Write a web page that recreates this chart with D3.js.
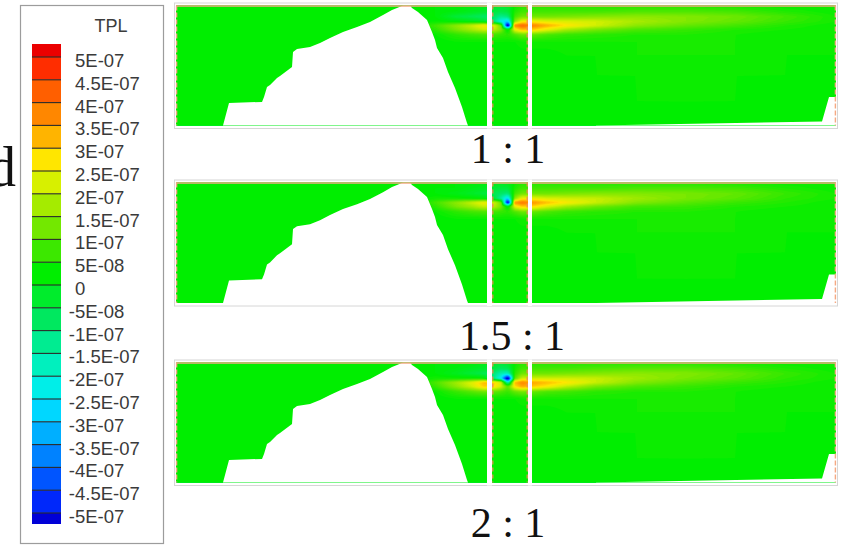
<!DOCTYPE html>
<html>
<head>
<meta charset="utf-8">
<script src="https://cdn.jsdelivr.net/npm/d3@7"></script>
<style>
  html, body { margin: 0; padding: 0; background: #fff; }
  svg { display: block; }
</style>
</head>
<body>
<svg id="chart" width="843" height="545"></svg>
<script>
// ---- Legend: TPL contour levels (values in units of 1E-8) and their labels ----
const legendLevels = [50, 45, 40, 35, 30, 25, 20, 15, 10, 5, 0, -5, -10, -15, -20, -25, -30, -35, -40, -45, -50];
const legendLabels = ["5E-07", "4.5E-07", "4E-07", "3.5E-07", "3E-07", "2.5E-07", "2E-07", "1.5E-07", "1E-07", "5E-08", "0",
  "-5E-08", "-1E-07", "-1.5E-07", "-2E-07", "-2.5E-07", "-3E-07", "-3.5E-07", "-4E-07", "-4.5E-07", "-5E-07"];
// one colour per band, from "above 5E-07" down to "below -5E-07"
const bandColors = ["#eb0000", "#ff2d00", "#ff5f00", "#ff8700", "#ffb400", "#ffe600", "#d7f000", "#a5eb00", "#73e800", "#3ce800", "#00ee00",
  "#00ec2c", "#00e85f", "#00ec91", "#00f0be", "#00eee8", "#00d7ff", "#00afff", "#0082ff", "#0055ff", "#0028fa", "#0000d7"];

// ---- Model grid: horizontal distance (m) and elevation (m, top to bottom) ----
const gridX = [0, 1200, 1300, 1400, 1480, 1540, 1590, 1625, 1660, 1695, 1730, 1790, 1850, 1950, 2100, 2300, 2550, 2800, 3050, 3300];
const gridZ = [600, 570, 545, 520, 500, 480, 455, 420, 350, 250, 120, 0];

// TPL field (1E-8) for each aspect ratio; one row per elevation in gridZ
const tpl_1_1 = [
  [2, 2, 2, 2, 1, 0, -2, -3, -2, 3, 5, 5, 5, 5, 5, 5, 5, 4, 3, 3],
  [2, 2, 2, 1, -1, -2, -4, -5, -4, 5, 8, 8, 8, 8, 8, 9, 9, 8, 5, 3],
  [2, 2, 2, -4, -6, -8, -8, -12, -10, 8, 12, 12, 12, 13, 14, 15, 14, 12, 8, 4],
  [2, 2, 3, 2, 0, -2, -10, -22, -30, 15, 26, 26, 24, 23, 22, 18, 14, 11, 7, 4],
  [2, 2, 8, 15, 21, 27, 24, 12, -70, 38, 42, 38, 34, 28, 22, 15, 11, 8, 5, 3],
  [2, 2, 6, 13, 18, 22, 20, 14, 0, 25, 32, 30, 25, 18, 13, 9, 7, 5, 4, 3],
  [2, 2, 3, 6, 8, 9, 8, 7, 6, 9, 12, 11, 9, 7, 6, 5, 5, 4, 3, 3],
  [2, 2, 2, 3, 3, 3, 3, 3, 3, 3, 4, 4, 4, 4, 4, 4, 4, 4, 3, 3],
  [2, 2, 2, 2, 2, 2, 2, 2, 2, 2, 2, 2, 2, 3, 3, 4, 4, 4, 3, 3],
  [2, 2, 2, 2, 2, 2, 2, 2, 2, 2, 2, 2, 2, 2, 3, 3, 4, 3, 3, 2],
  [2, 2, 2, 2, 2, 2, 2, 2, 2, 2, 2, 2, 2, 2, 2, 3, 3, 3, 2, 2],
  [2, 2, 2, 2, 2, 2, 2, 2, 2, 2, 2, 2, 2, 2, 2, 2, 2, 2, 2, 2]
];
const tpl_15_1 = [
  [2, 2, 2, 2, 2, 1, 0, -1, 0, 3, 5, 5, 5, 5, 5, 5, 5, 4, 3, 3],
  [2, 2, 2, 2, 0, -1, -3, -4, -4, 5, 8, 8, 8, 8, 8, 9, 9, 8, 5, 3],
  [2, 2, 2, 0, -2, -4, -6, -8, -10, 8, 12, 12, 12, 13, 14, 14, 13, 11, 7, 4],
  [2, 2, 4, 4, 3, 2, -4, -14, -30, 15, 26, 25, 23, 22, 21, 17, 13, 10, 6, 4],
  [2, 2, 8, 15, 21, 26, 22, 12, -65, 36, 40, 36, 32, 27, 21, 14, 10, 7, 5, 3],
  [2, 2, 6, 13, 17, 21, 19, 13, 0, 24, 30, 28, 23, 17, 12, 8, 7, 5, 4, 3],
  [2, 2, 3, 6, 8, 9, 8, 7, 6, 9, 12, 11, 9, 7, 6, 5, 5, 4, 3, 3],
  [2, 2, 2, 3, 3, 3, 3, 3, 3, 3, 4, 4, 4, 4, 4, 4, 4, 4, 3, 3],
  [2, 2, 2, 2, 2, 2, 2, 2, 2, 2, 2, 2, 2, 3, 3, 4, 4, 4, 3, 3],
  [2, 2, 2, 2, 2, 2, 2, 2, 2, 2, 2, 2, 2, 2, 3, 3, 4, 3, 3, 2],
  [2, 2, 2, 2, 2, 2, 2, 2, 2, 2, 2, 2, 2, 2, 2, 3, 3, 3, 2, 2],
  [2, 2, 2, 2, 2, 2, 2, 2, 2, 2, 2, 2, 2, 2, 2, 2, 2, 2, 2, 2]
];
const tpl_2_1 = [
  [2, 2, 2, 2, 2, 0, -2, -3, -2, 3, 5, 5, 5, 5, 5, 5, 5, 4, 3, 3],
  [2, 2, 2, 1, -1, -2, -4, -7, -6, 4, 8, 8, 8, 8, 9, 10, 10, 8, 5, 3],
  [2, 2, 2, -1, -4, -6, -10, -16, -18, 6, 12, 12, 12, 13, 14, 15, 14, 11, 7, 4],
  [2, 2, 4, 4, 4, 3, -12, -25, -65, 10, 22, 22, 22, 22, 21, 17, 13, 10, 6, 4],
  [2, 2, 9, 17, 24, 32, 30, 22, -20, 32, 38, 34, 32, 28, 21, 14, 10, 7, 5, 3],
  [2, 2, 7, 15, 22, 30, 28, 22, 10, 28, 34, 30, 27, 20, 13, 9, 7, 5, 4, 3],
  [2, 2, 3, 7, 10, 12, 11, 9, 7, 11, 13, 11, 9, 8, 6, 5, 5, 4, 3, 3],
  [2, 2, 2, 3, 3, 3, 3, 3, 3, 3, 4, 4, 4, 4, 4, 4, 4, 4, 3, 3],
  [2, 2, 2, 2, 2, 2, 2, 2, 2, 2, 2, 2, 2, 3, 3, 4, 4, 4, 3, 3],
  [2, 2, 2, 2, 2, 2, 2, 2, 2, 2, 2, 2, 2, 2, 3, 3, 4, 3, 3, 2],
  [2, 2, 2, 2, 2, 2, 2, 2, 2, 2, 2, 2, 2, 2, 2, 3, 3, 3, 2, 2],
  [2, 2, 2, 2, 2, 2, 2, 2, 2, 2, 2, 2, 2, 2, 2, 2, 2, 2, 2, 2]
];
const panelLabels = ["1 : 1", "1.5 : 1", "2 : 1"];
const panelFields = [tpl_1_1, tpl_15_1, tpl_2_1];

// Terrain outline [x m, z m] (blocked-out hill) and the low corner at the far end
const terrain = [[235, -20], [235, 0], [265, 112], [430, 118], [440, 142], [455, 192], [470, 202], [505, 238], [520, 248],
  [560, 278], [580, 292], [585, 368], [605, 382], [670, 392], [720, 412], [770, 438], [835, 468], [905, 492], [970, 518],
  [1035, 552], [1080, 578], [1105, 588], [1135, 600], [1170, 600], [1180, 588], [1210, 568], [1255, 528], [1280, 468],
  [1295, 428], [1305, 388], [1335, 338], [1360, 268], [1395, 188], [1430, 92], [1455, 12], [1460, 0], [1460, -20]];
const farCorner = [[2100, -20], [2100, 0], [3230, 20], [3265, 142], [3320, 142], [3320, -20]];
// Mesh block extents along x (m); the spaces between them are left blank
const blocks = [[0, 1555], [1580, 1760], [1780, 3300]];

// ---- Layout ----
const svg = d3.select("#chart");
const defs = svg.append("defs");
const plotLeft = 176, plotRight = 836;
const panelTops = [5.5, 182.5, 362.5];
const panelBottoms = [125.5, 303, 482.5];
const labelPos = [[508, 163], [512, 350], [508, 537]];

// continuous colour scale through the band mid-values
const bandMids = bandColors.map((c, k) => k === 0 ? legendLevels[0] + 2.5
  : k === bandColors.length - 1 ? legendLevels[legendLevels.length - 1] - 2.5
  : (legendLevels[k - 1] + legendLevels[k]) / 2);
const fieldColor = d3.scaleLinear().domain(bandMids.slice().reverse()).range(bandColors.slice().reverse())
  .interpolate(d3.interpolateRgb).clamp(true);

function sampler(grid) {
  return (x, z) => {
    let i = d3.bisectRight(gridX, x) - 1;
    i = Math.max(0, Math.min(gridX.length - 2, i));
    let tx = (x - gridX[i]) / (gridX[i + 1] - gridX[i]);
    tx = Math.max(0, Math.min(1, tx));
    let j = 0;
    while (j < gridZ.length - 2 && z < gridZ[j + 1]) j++;
    let tz = (gridZ[j] - z) / (gridZ[j] - gridZ[j + 1]);
    tz = Math.max(0, Math.min(1, tz));
    const a = grid[j][i], b = grid[j][i + 1], c = grid[j + 1][i], d = grid[j + 1][i + 1];
    return (a * (1 - tx) + b * tx) * (1 - tz) + (c * (1 - tx) + d * tx) * tz;
  };
}

const thresholds = d3.range(-80, 61, 1);
const nx = 330, ny = 120;
const peach = "#f5a983";

panelFields.forEach((grid, p) => {
  const top = panelTops[p], bottom = panelBottoms[p];
  const xScale = d3.scaleLinear().domain([0, 3300]).range([plotLeft, plotRight]);
  const zScale = d3.scaleLinear().domain([0, 600]).range([bottom, top]);
  const g = svg.append("g");

  // outer frame
  g.append("rect")
    .attr("x", plotLeft - 1.5).attr("y", top - 2.5)
    .attr("width", plotRight - plotLeft + 3).attr("height", bottom - top + 5.5)
    .attr("fill", "#fff").attr("stroke", "#d6d6d6").attr("stroke-width", 1);

  const clipId = "clip" + p;
  defs.append("clipPath").attr("id", clipId).append("rect")
    .attr("x", plotLeft).attr("y", top).attr("width", plotRight - plotLeft).attr("height", bottom - top);
  const field = g.append("g").attr("clip-path", `url(#${clipId})`);

  // resample the field onto a fine raster and contour it
  const sample = sampler(grid);
  const gx = d3.scaleLinear().domain([0, nx]).range([plotLeft, plotRight]);
  const gy = d3.scaleLinear().domain([0, ny]).range([top, bottom]);
  const values = new Float64Array(nx * ny);
  for (let j = 0; j < ny; j++) {
    const z = zScale.invert(gy(j + 0.5));
    for (let i = 0; i < nx; i++) {
      values[j * nx + i] = sample(xScale.invert(gx(i + 0.5)), z);
    }
  }
  const contours = d3.contours().size([nx, ny]).thresholds(thresholds)(values);
  const proj = d3.geoTransform({ point(x, y) { this.stream.point(gx(x), gy(y)); } });
  const path = d3.geoPath(proj);
  field.selectAll("path.band").data(contours).join("path")
    .attr("class", "band")
    .attr("d", path)
    .attr("fill", d => fieldColor(d.value + 0.5));

  // blank terrain
  const outline = d3.line().x(d => xScale(d[0])).y(d => zScale(d[1]));
  field.append("path").attr("d", outline(terrain) + "Z").attr("fill", "#fff");
  field.append("path").attr("d", outline(farCorner) + "Z").attr("fill", "#fff");

  // gaps between mesh blocks
  for (let b = 0; b < blocks.length - 1; b++) {
    g.append("rect")
      .attr("x", xScale(blocks[b][1])).attr("y", top - 3)
      .attr("width", xScale(blocks[b + 1][0]) - xScale(blocks[b][1]))
      .attr("height", bottom - top + 6)
      .attr("fill", "#fff");
  }

  // block outlines
  blocks.forEach(([x0, x1]) => {
    g.append("line")
      .attr("x1", xScale(x0)).attr("x2", xScale(x1))
      .attr("y1", top + 0.5).attr("y2", top + 0.5)
      .attr("stroke", peach).attr("stroke-width", 1.6);
  });
  const mid = blocks[1];
  [mid[0], mid[1]].forEach(x => {
    g.append("line")
      .attr("x1", xScale(x) + (x === mid[0] ? 0.8 : -0.8)).attr("x2", xScale(x) + (x === mid[0] ? 0.8 : -0.8))
      .attr("y1", top).attr("y2", bottom)
      .attr("stroke", "#f08a55").attr("stroke-width", 1.2).attr("stroke-dasharray", "4,3");
  });
  [0, 3300].forEach(x => {
    g.append("line")
      .attr("x1", xScale(x) + (x === 0 ? 0.6 : -0.6)).attr("x2", xScale(x) + (x === 0 ? 0.6 : -0.6))
      .attr("y1", top).attr("y2", bottom)
      .attr("stroke", peach).attr("stroke-width", 1.4).attr("stroke-dasharray", "5,2");
  });

  // aspect-ratio label
  svg.append("text")
    .attr("x", labelPos[p][0]).attr("y", labelPos[p][1])
    .attr("text-anchor", "middle")
    .attr("font-family", "'Liberation Serif', 'Times New Roman', serif")
    .attr("font-size", 42).attr("fill", "#111")
    .text(panelLabels[p]);
});

// ---- Legend ----
const legend = svg.append("g");
legend.append("rect").attr("x", 20.5).attr("y", 5.5).attr("width", 143).attr("height", 538)
  .attr("fill", "#fff").attr("stroke", "#9c9c9c").attr("stroke-width", 1.2);
legend.append("text").attr("x", 111).attr("y", 32).attr("text-anchor", "middle")
  .attr("font-family", "'Liberation Sans', Arial, sans-serif").attr("font-size", 18).attr("fill", "#3c3c3c")
  .text("TPL");

const yLegend = d3.scaleLinear().domain([50, -50]).range([57, 513]);
const barX = 32, barW = 29;
const bandEdges = [yLegend(50) - 13].concat(legendLevels.map(v => yLegend(v))).concat([yLegend(-50) + 11]);
legend.selectAll("rect.band").data(bandColors).join("rect")
  .attr("class", "band")
  .attr("x", barX).attr("width", barW)
  .attr("y", (c, k) => bandEdges[k])
  .attr("height", (c, k) => bandEdges[k + 1] - bandEdges[k])
  .attr("fill", c => c);
legend.selectAll("line.edge").data(legendLevels).join("line")
  .attr("class", "edge")
  .attr("x1", barX).attr("x2", barX + barW)
  .attr("y1", v => yLegend(v)).attr("y2", v => yLegend(v))
  .attr("stroke", "#2a2a2a").attr("stroke-width", 1.1);
legend.selectAll("text.lvl").data(legendLabels).join("text")
  .attr("class", "lvl")
  .attr("x", d => d.startsWith("-") ? 68.8 : 75)
  .attr("y", (d, k) => yLegend(legendLevels[k]) + 10)
  .attr("font-family", "'Liberation Sans', Arial, sans-serif")
  .attr("font-size", 18.5).attr("fill", "#3a3a3a")
  .text(d => d);

// panel letter at the left edge
svg.append("text").attr("x", 16).attr("y", 186).attr("text-anchor", "end")
  .attr("font-family", "'Liberation Serif', 'Times New Roman', serif")
  .attr("font-size", 56).attr("fill", "#111")
  .text("d");
</script>
</body>
</html>
